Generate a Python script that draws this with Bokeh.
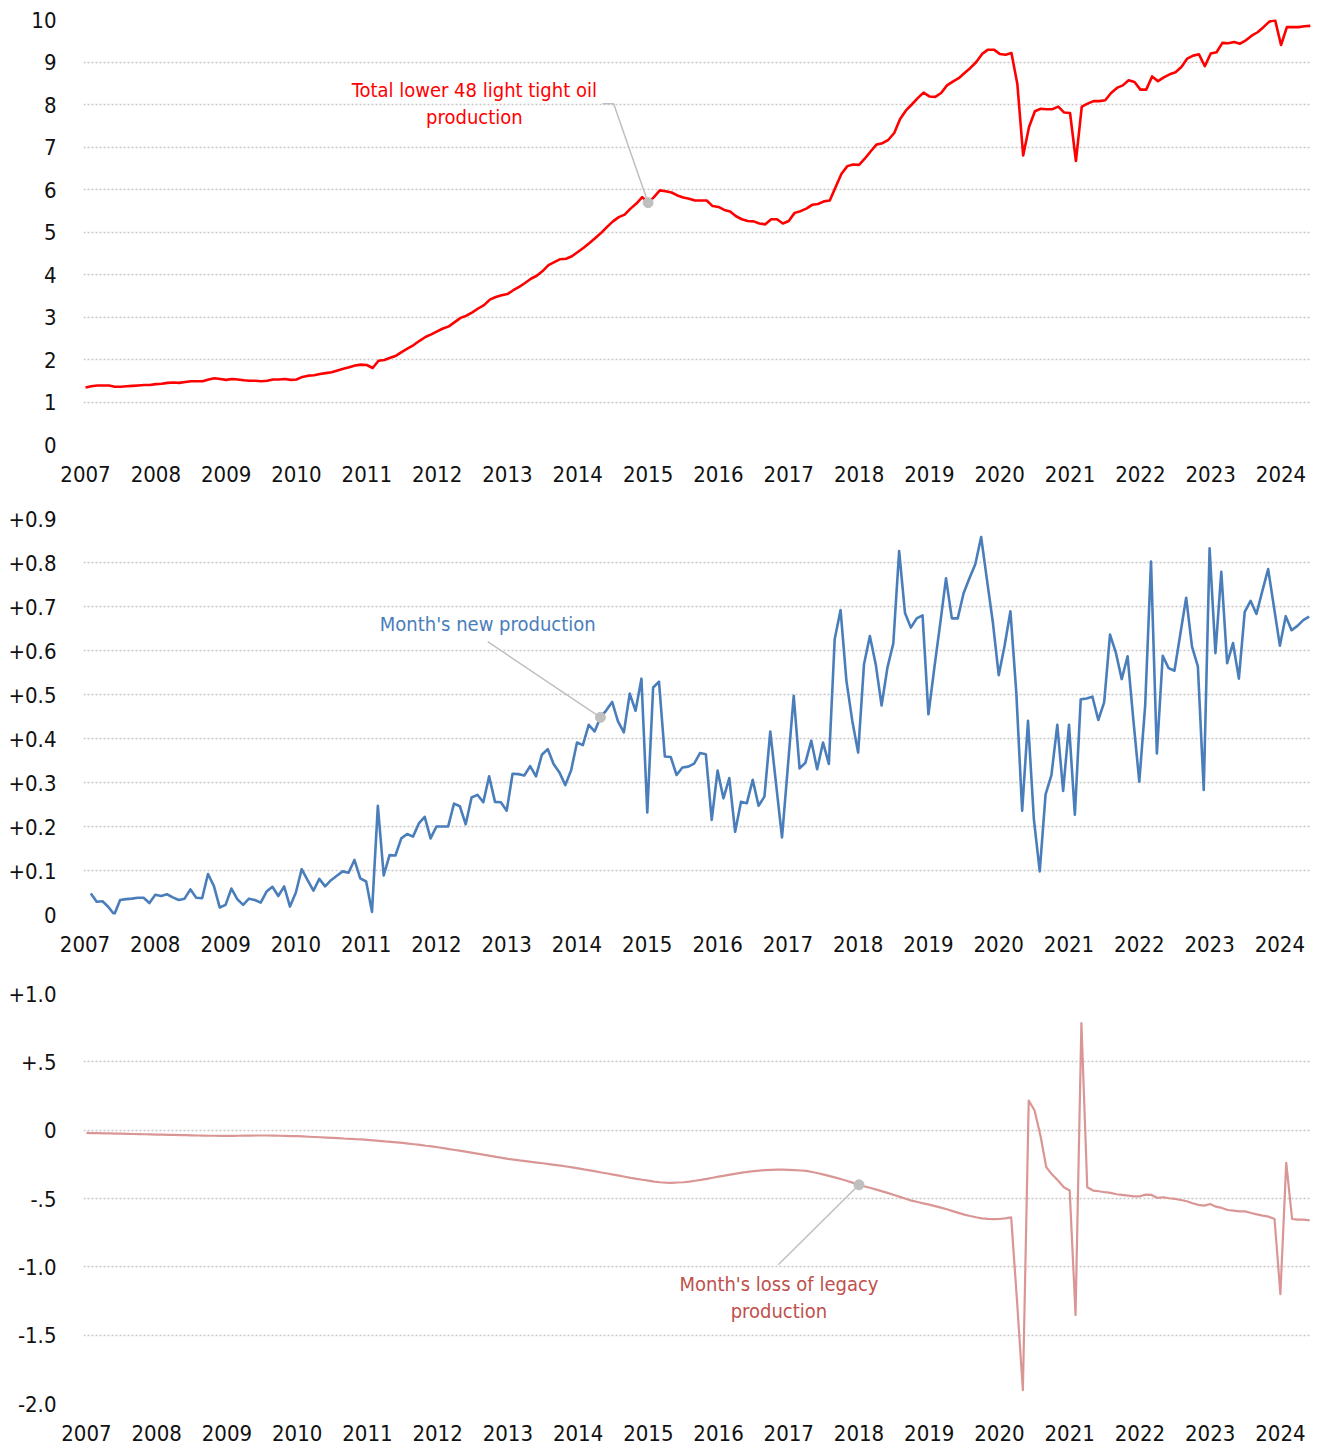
import numpy as np
from bokeh.plotting import figure
from bokeh.layouts import column
from bokeh.models import FixedTicker, Range1d, Label
from bokeh.embed import file_html
from bokeh.resources import INLINE

# ---------------- data (million barrels per day) ----------------
START_YEAR = 2007
year_ticks = list(range(2007, 2025))

# monthly total lower-48 light tight oil production, Jan 2007 ->
total_production = [
    1.34, 1.37, 1.39, 1.39, 1.39, 1.36, 1.36, 1.37, 1.38, 1.39, 1.40, 1.40,
    1.42, 1.43, 1.45, 1.46, 1.45, 1.47, 1.49, 1.49, 1.49, 1.53, 1.56, 1.54,
    1.52, 1.54, 1.53, 1.51, 1.50, 1.50, 1.49, 1.50, 1.53, 1.53, 1.54, 1.52,
    1.53, 1.59, 1.62, 1.63, 1.66, 1.68, 1.70, 1.74, 1.78, 1.82, 1.86, 1.88,
    1.87, 1.80, 1.97, 1.99, 2.04, 2.09, 2.18, 2.26, 2.34, 2.44, 2.53, 2.59,
    2.66, 2.73, 2.78, 2.88, 2.98, 3.03, 3.11, 3.20, 3.28, 3.41, 3.47, 3.51,
    3.54, 3.63, 3.71, 3.80, 3.90, 3.97, 4.08, 4.22, 4.29, 4.36, 4.37, 4.43,
    4.53, 4.63, 4.74, 4.86, 4.98, 5.12, 5.25, 5.35, 5.41, 5.55, 5.67, 5.82,
    5.69, 5.82, 5.98, 5.96, 5.93, 5.86, 5.81, 5.78, 5.74, 5.74, 5.74, 5.61,
    5.59, 5.52, 5.48, 5.37, 5.30, 5.26, 5.25, 5.20, 5.18, 5.30, 5.30, 5.20,
    5.26, 5.45, 5.49, 5.55, 5.64, 5.66, 5.72, 5.74, 6.06, 6.37, 6.55, 6.59,
    6.58, 6.73, 6.90, 7.06, 7.09, 7.17, 7.33, 7.66, 7.86, 8.00, 8.15, 8.28,
    8.19, 8.18, 8.27, 8.45, 8.54, 8.62, 8.74, 8.86, 9.00, 9.19, 9.29, 9.29,
    9.19, 9.17, 9.21, 8.49, 6.80, 7.47, 7.84, 7.90, 7.89, 7.89, 7.95, 7.81,
    7.80, 6.67, 7.95, 8.02, 8.08, 8.08, 8.10, 8.27, 8.39, 8.45, 8.57, 8.53,
    8.35, 8.35, 8.66, 8.55, 8.64, 8.71, 8.76, 8.88, 9.08, 9.15, 9.18, 8.90,
    9.20, 9.23, 9.45, 9.44, 9.47, 9.43, 9.51, 9.62, 9.70, 9.82, 9.95, 9.98,
    9.40, 9.82, 9.82, 9.82, 9.84, 9.85,
]

# month's new production, Feb 2007 ->
new_production = [
    0.048, 0.029, 0.030, 0.017, 0.000, 0.033, 0.035, 0.036, 0.038, 0.038, 0.026,
    0.045, 0.042, 0.046, 0.039, 0.033, 0.036, 0.057, 0.038, 0.037, 0.092, 0.065, 0.016,
    0.022, 0.059, 0.035, 0.022, 0.036, 0.033, 0.027, 0.052, 0.063, 0.042, 0.064, 0.018,
    0.050, 0.103, 0.078, 0.054, 0.081, 0.064, 0.078, 0.088, 0.098, 0.095, 0.124, 0.082,
    0.075, 0.006, 0.247, 0.089, 0.135, 0.134, 0.173, 0.183, 0.177, 0.207, 0.222, 0.173,
    0.200, 0.200, 0.200, 0.252, 0.246, 0.205, 0.266, 0.272, 0.255, 0.314, 0.256, 0.255,
    0.236, 0.320, 0.319, 0.316, 0.337, 0.314, 0.363, 0.376, 0.342, 0.323, 0.294, 0.328,
    0.391, 0.385, 0.431, 0.416, 0.448, 0.464, 0.483, 0.439, 0.414, 0.502, 0.463, 0.536,
    0.232, 0.516, 0.529, 0.359, 0.358, 0.317, 0.334, 0.336, 0.343, 0.367, 0.364, 0.215,
    0.327, 0.264, 0.310, 0.188, 0.256, 0.253, 0.306, 0.247, 0.268, 0.416, 0.295, 0.175,
    0.336, 0.497, 0.332, 0.345, 0.395, 0.330, 0.391, 0.342, 0.626, 0.692, 0.531, 0.440,
    0.368, 0.569, 0.633, 0.569, 0.475, 0.561, 0.616, 0.826, 0.685, 0.652, 0.673, 0.680,
    0.455, 0.560, 0.660, 0.764, 0.673, 0.673, 0.730, 0.764, 0.796, 0.858, 0.760, 0.664,
    0.544, 0.611, 0.689, 0.505, 0.236, 0.440, 0.217, 0.098, 0.273, 0.317, 0.431, 0.281,
    0.431, 0.227, 0.489, 0.491, 0.495, 0.442, 0.482, 0.636, 0.595, 0.535, 0.587, 0.440,
    0.302, 0.474, 0.802, 0.366, 0.588, 0.560, 0.554, 0.637, 0.720, 0.609, 0.564, 0.283,
    0.832, 0.594, 0.779, 0.571, 0.617, 0.536, 0.688, 0.713, 0.683, 0.735, 0.785, 0.698,
    0.611, 0.678, 0.646, 0.656, 0.669, 0.677,
]

# month's loss of legacy production, Jan 2007 ->
legacy_loss = [
    -0.020, -0.021, -0.022, -0.023, -0.024, -0.025, -0.026, -0.027, -0.028, -0.029, -0.030, -0.031,
    -0.032, -0.033, -0.034, -0.035, -0.036, -0.037, -0.038, -0.039, -0.040, -0.041, -0.041, -0.042,
    -0.042, -0.042, -0.041, -0.040, -0.040, -0.039, -0.039, -0.039, -0.040, -0.041, -0.042, -0.043,
    -0.044, -0.046, -0.048, -0.050, -0.052, -0.054, -0.056, -0.058, -0.061, -0.063, -0.066, -0.068,
    -0.071, -0.074, -0.078, -0.082, -0.085, -0.089, -0.093, -0.098, -0.103, -0.108, -0.114, -0.119,
    -0.125, -0.132, -0.139, -0.145, -0.152, -0.159, -0.166, -0.173, -0.181, -0.188, -0.196, -0.203,
    -0.210, -0.215, -0.221, -0.226, -0.232, -0.237, -0.242, -0.248, -0.254, -0.260, -0.266, -0.272,
    -0.279, -0.287, -0.294, -0.302, -0.310, -0.317, -0.325, -0.333, -0.341, -0.349, -0.356, -0.363,
    -0.369, -0.376, -0.381, -0.384, -0.385, -0.383, -0.381, -0.376, -0.370, -0.364, -0.356, -0.348,
    -0.340, -0.333, -0.325, -0.318, -0.311, -0.305, -0.300, -0.296, -0.292, -0.290, -0.289, -0.289,
    -0.290, -0.292, -0.295, -0.298, -0.306, -0.315, -0.325, -0.336, -0.347, -0.359, -0.372, -0.386,
    -0.400, -0.412, -0.423, -0.435, -0.448, -0.461, -0.474, -0.488, -0.502, -0.516, -0.526, -0.536,
    -0.545, -0.556, -0.567, -0.579, -0.592, -0.605, -0.618, -0.628, -0.637, -0.645, -0.649, -0.651,
    -0.650, -0.646, -0.638, -1.250, -1.903, 0.217, 0.144, -0.039, -0.271, -0.325, -0.369, -0.418,
    -0.442, -1.353, 0.784, -0.418, -0.442, -0.447, -0.454, -0.459, -0.469, -0.474, -0.479, -0.484,
    -0.484, -0.472, -0.474, -0.496, -0.491, -0.498, -0.503, -0.511, -0.520, -0.535, -0.547, -0.552,
    -0.540, -0.560, -0.569, -0.584, -0.589, -0.594, -0.594, -0.606, -0.616, -0.625, -0.633, -0.650,
    -1.200, -0.239, -0.650, -0.655, -0.655, -0.660,
]

panel1_ticks = [0, 1, 2, 3, 4, 5, 6, 7, 8, 9, 10]
panel1_labels = ["0", "1", "2", "3", "4", "5", "6", "7", "8", "9", "10"]
panel2_ticks = [0, 0.1, 0.2, 0.3, 0.4, 0.5, 0.6, 0.7, 0.8, 0.9]
panel2_labels = ["0", "+0.1", "+0.2", "+0.3", "+0.4", "+0.5", "+0.6", "+0.7", "+0.8", "+0.9"]
panel3_ticks = [-2.0, -1.5, -1.0, -0.5, 0, 0.5, 1.0]
panel3_labels = ["-2.0", "-1.5", "-1.0", "-.5", "0", "+.5", "+1.0"]


def months(n, first_offset=0):
    return [START_YEAR + (i + first_offset) / 12.0 for i in range(n)]


FONT = "Liberation Sans Narrow, DejaVu Sans Condensed, sans-serif"
TICK_SIZE = "22px"
NOTE_SIZE = "20px"
GRID = "#c6c6c6"
LEADER = "#bfbfbf"
WIDTH = 1314


def make_fig(height, xr, yr, top, bottom, left, right, ticks, labels, standoff):
    p = figure(width=WIDTH, height=height, x_range=Range1d(*xr), y_range=Range1d(*yr),
               output_backend="svg", toolbar_location=None,
               min_border_left=left, min_border_right=right,
               min_border_top=top, min_border_bottom=bottom)
    p.outline_line_color = None
    p.background_fill_color = "white"
    p.border_fill_color = "white"
    p.xgrid.visible = False
    p.ygrid.ticker = FixedTicker(ticks=ticks)
    p.ygrid.grid_line_color = GRID
    p.ygrid.grid_line_dash = "2 2"
    p.ygrid.grid_line_width = 1.5
    p.yaxis.ticker = FixedTicker(ticks=ticks)
    p.yaxis.major_label_overrides = {t: l for t, l in zip(ticks, labels)}
    p.xaxis.ticker = FixedTicker(ticks=year_ticks)
    for ax in (p.xaxis, p.yaxis):
        ax.axis_line_color = None
        ax.major_tick_line_color = None
        ax.minor_tick_line_color = None
        ax.major_label_text_font = FONT
        ax.major_label_text_font_size = TICK_SIZE
        ax.major_label_text_color = "#111111"
    p.yaxis.major_label_standoff = 21
    p.xaxis.major_label_standoff = standoff
    return p


# ---------------- panel 1 ----------------
p1 = make_fig(494, (2006.9716, 2024.4333), (0, 10), 19, 50, 83, WIDTH - 1311,
              panel1_ticks, panel1_labels, 15)
x1 = months(len(total_production))
p1.line(x1, total_production, line_color="#ff0000", line_width=2.6, line_join="round")
d1 = 96
p1.line([2014.35, 2014.51, x1[d1]], [8.02, 8.02, total_production[d1]],
        line_color=LEADER, line_width=1.5)
p1.scatter([x1[d1]], [total_production[d1]], size=10, color=LEADER)
for txt, yy in (("Total lower 48 light tight oil", 8.33), ("production", 7.70)):
    p1.add_layout(Label(x=2012.53, y=yy, text=txt, text_align="center",
                        text_baseline="middle", text_font=FONT,
                        text_font_size=NOTE_SIZE, text_color="#ff0000"))

# ---------------- panel 2 ----------------
p2 = make_fig(470, (2006.9788, 2024.45), (0, 0.9), 24, 50, 76, WIDTH - 1313,
              panel2_ticks, panel2_labels, 15)
x2 = months(len(new_production), 1)
p2.line(x2, new_production, line_color="#4a7ebb", line_width=2.6, line_join="round")
d2 = 87
p2.line([2012.73, x2[d2]], [0.620, new_production[d2]], line_color=LEADER, line_width=1.5)
p2.scatter([x2[d2]], [new_production[d2]], size=10, color=LEADER)
p2.add_layout(Label(x=2012.73, y=0.661, text="Month's new production", text_align="center",
                    text_baseline="middle", text_font=FONT, text_font_size=NOTE_SIZE,
                    text_color="#4a7ebb"))

# ---------------- panel 3 ----------------
p3 = make_fig(484, (2006.9577, 2024.443), (-2.0, 1.0), 29, 45, 75, WIDTH - 1313,
              panel3_ticks, panel3_labels, 15)
x3 = months(len(legacy_loss))
p3.line(x3, legacy_loss, line_color="#d99694", line_width=2.2, line_join="round")
d3 = 132
p3.line([2016.85, x3[d3]], [-0.985, legacy_loss[d3]], line_color=LEADER, line_width=1.5)
p3.scatter([x3[d3]], [legacy_loss[d3]], size=10, color=LEADER)
for txt, yy in (("Month's loss of legacy", -1.124), ("production", -1.322)):
    p3.add_layout(Label(x=2016.86, y=yy, text=txt, text_align="center",
                        text_baseline="middle", text_font=FONT,
                        text_font_size=NOTE_SIZE, text_color="#c0504d"))

layout = column(p1, p2, p3, spacing=0)
open("out.html", "w").write(file_html(layout, INLINE))
